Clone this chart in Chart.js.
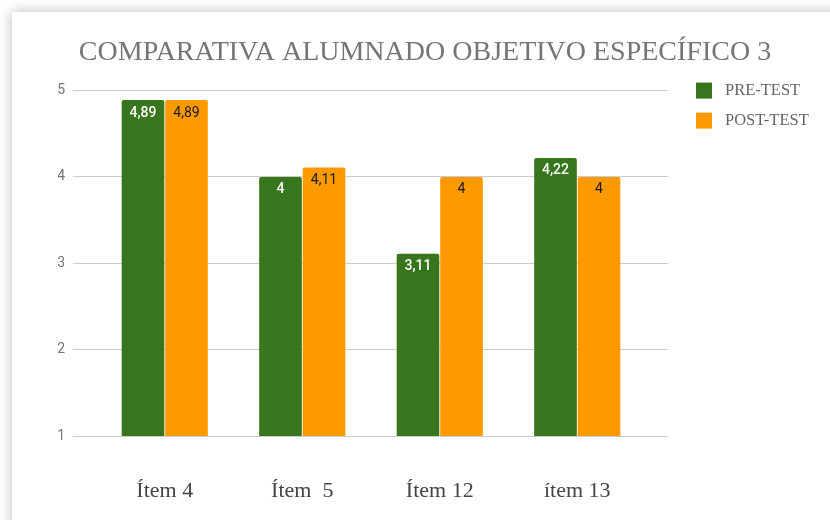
<!DOCTYPE html>
<html>
<head>
<meta charset="utf-8">
<script src="https://cdn.jsdelivr.net/npm/chart.js"></script>
<style>
  html, body { margin: 0; padding: 0; background: #fff; overflow: hidden; }
  #card {
    position: absolute; left: 12px; top: 12px; width: 900px; height: 600px;
    background: #fff; box-shadow: 0 0 12px rgba(0, 0, 0, 0.28);
  }
  #wrap { position: absolute; left: 0; top: 0; width: 830px; height: 520px; }
</style>
</head>
<body>
<div id="card"></div>
<div id="wrap"><canvas id="chart"></canvas></div>
<script>
// Chart data
const categories = ['Ítem 4', 'Ítem  5', 'Ítem 12', 'ítem 13'];
const preTest = [4.89, 4, 3.11, 4.22];
const postTest = [4.89, 4.11, 4, 4];
const seriesNames = ['PRE-TEST', 'POST-TEST'];
const yTicks = [1, 2, 3, 4, 5];

const GREEN = '#38761d';
const ORANGE = '#ff9900';
const SERIF = '"Liberation Serif", "DejaVu Serif", serif';

// Value labels drawn inside the top of each bar, with a decimal comma
const barLabels = {
    id: 'barLabels',
    afterDatasetsDraw(chart) {
        const ctx = chart.ctx;
        ctx.save();
        ctx.textAlign = 'center';
        ctx.textBaseline = 'middle';
        chart.data.datasets.forEach((ds, i) => {
            const meta = chart.getDatasetMeta(i);
            meta.data.forEach((bar, j) => {
                const txt = String(ds.data[j]).replace('.', ',');
                ctx.font = (i === 0 ? '500 ' : '400 ') + '14px Roboto';
                ctx.fillStyle = i === 0 ? '#ffffff' : '#1a1a1a';
                ctx.fillText(txt, bar.x, bar.y + 13);
            });
        });
        ctx.restore();
    }
};

// Simple legend to the right of the plot
const sideLegend = {
    id: 'sideLegend',
    afterDraw(chart) {
        const ctx = chart.ctx;
        const x = chart.chartArea.right + 50;
        const y0 = chart.chartArea.top - 8;
        ctx.save();
        ctx.font = '16.5px ' + SERIF;
        ctx.textBaseline = 'middle';
        chart.data.datasets.forEach((ds, i) => {
            const y = y0 + i * 30;
            ctx.fillStyle = ds.backgroundColor;
            ctx.fillRect(x, y, 16, 16);
            ctx.fillStyle = '#666666';
            ctx.fillText(ds.label, x + 29, y + 8);
        });
        ctx.restore();
    }
};

const ctx = document.getElementById('chart').getContext('2d');
new Chart(ctx, {
    type: 'bar',
    data: {
        labels: categories,
        datasets: [
            { label: seriesNames[0], data: preTest, backgroundColor: GREEN },
            { label: seriesNames[1], data: postTest, backgroundColor: ORANGE }
        ]
    },
    options: {
        responsive: true,
        maintainAspectRatio: false,
        animation: false,
        layout: { padding: { left: 58, right: 38, top: 36, bottom: 21 } },
        datasets: {
            bar: {
                categoryPercentage: 0.633,
                barPercentage: 0.98,
                borderRadius: { topLeft: 2, topRight: 2 },
                borderSkipped: 'bottom'
            }
        },
        plugins: {
            legend: { display: false },
            tooltip: { enabled: false },
            title: {
                display: true,
                text: 'COMPARATIVA ALUMNADO OBJETIVO ESPECÍFICO 3',
                color: '#757575',
                font: { family: SERIF, size: 28, weight: 'normal' },
                padding: { top: 0, bottom: 21 }
            }
        },
        scales: {
            x: {
                grid: { display: false },
                border: { display: false },
                afterFit: (s) => { s.height = 63; },
                ticks: {
                    color: '#444444',
                    padding: 34,
                    font: { family: SERIF, size: 22 }
                }
            },
            y: {
                min: 1,
                max: 5,
                afterBuildTicks: (s) => { s.ticks = yTicks.map(v => ({ value: v })); },
                afterFit: (s) => { s.width = 38; },
                grid: { color: '#cccccc', tickLength: 23, tickColor: '#cccccc' },
                border: { display: false },
                ticks: {
                    color: '#757575',
                    padding: 8,
                    font: { family: 'Roboto', size: 14 }
                }
            },
            yRight: {
                position: 'right',
                min: 1,
                max: 5,
                afterBuildTicks: (s) => { s.ticks = yTicks.map(v => ({ value: v })); },
                afterFit: (s) => { s.width = 146; },
                grid: { drawOnChartArea: false, tickLength: 22, tickColor: '#cccccc' },
                border: { display: false },
                ticks: { display: false }
            }
        }
    },
    plugins: [barLabels, sideLegend]
});
</script>
</body>
</html>
